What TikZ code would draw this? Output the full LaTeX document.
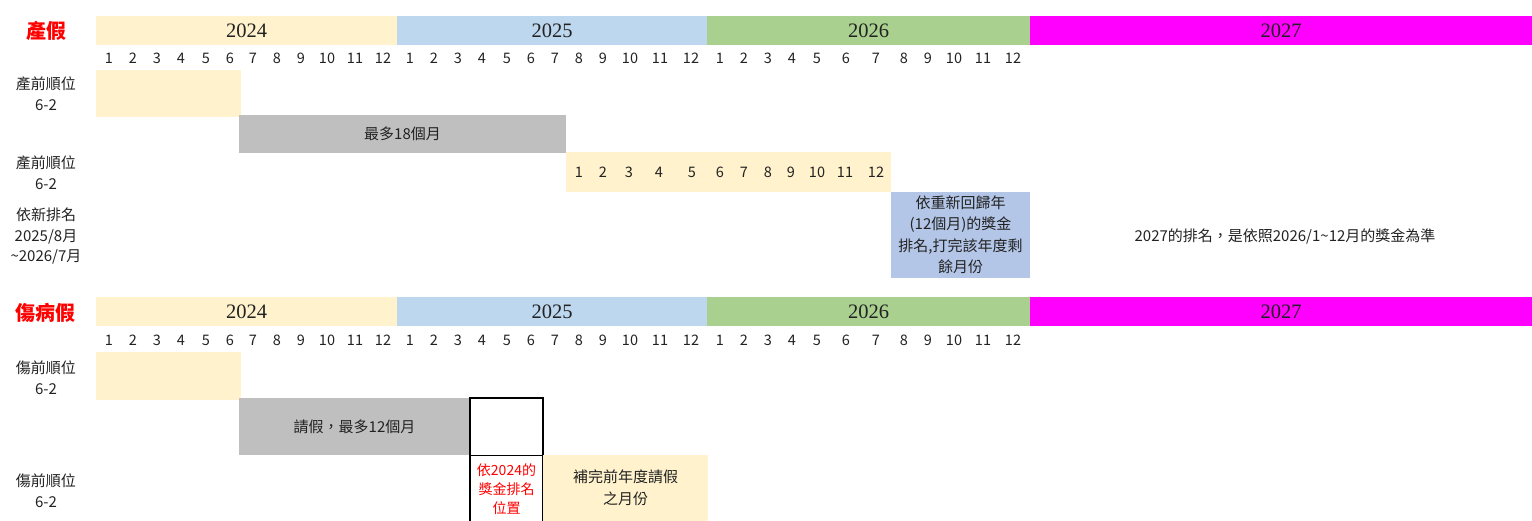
\documentclass[tikz,border=0pt]{standalone}
\usepackage{fontspec}
\setmainfont{Noto Sans CJK TC}
\newfontfamily\yrfont{Liberation Serif}
\definecolor{cy}{HTML}{FFF2CC}
\definecolor{cb}{HTML}{BDD7EE}
\definecolor{cg}{HTML}{A9D08E}
\definecolor{cm}{HTML}{FF00FF}
\definecolor{cgray}{HTML}{BFBFBF}
\definecolor{cblue}{HTML}{B4C6E7}
\definecolor{txt}{HTML}{222222}
\definecolor{cred}{HTML}{FF0000}
\newcommand\bx[7]{\node[cell,#6,minimum width={(#4-#2)*1pt},minimum height={(#5-#3)*1pt}] (#1) at ({(#2+#4)/2},{(#3+#5)/2}) {#7};}
\newcommand\yrtxt[1]{\raisebox{-1.5pt}{#1}}
\newcommand\hdr[3]{%
  \bx{#1y2024}{96}{#2}{397}{#2+29}{fill=cy,yr}{\yrtxt{2024}}
  \bx{#1y2025}{397}{#2}{707}{#2+29}{fill=cb,yr}{\yrtxt{2025}}
  \bx{#1y2026}{707}{#2}{1030}{#2+29}{fill=cg,yr}{\yrtxt{2026}}
  \bx{#1y2027}{1030}{#2}{1532}{#2+29}{fill=cm,yr}{\yrtxt{2027}}
  \foreach \xx/\mm [count=\i] in {109/1,133/2,157/3,181/4,206/5,230/6,253/7,277/8,301/9,327/10,355/11,383/12,
     410/1,434/2,458/3,482/4,507/5,531/6,555/7,579/8,603/9,630/10,660/11,691/12,
     720/1,744/2,768/3,792/4,817/5,846/6,876/7,904/8,928/9,954/10,983/11,1013/12}
     {\node[mon] (#1m\i) at (\xx,#3) {\mm};}
}
\begin{document}
\begin{tikzpicture}[x=1pt,y=-1pt,
  cell/.style={inner sep=0pt,outer sep=0pt,draw=none,align=center,text=txt,font=\fontsize{15}{21}\selectfont},
  yr/.style={font=\yrfont\fontsize{20.5}{22}\selectfont},
  mon/.style={inner sep=0pt,text=txt,font=\fontsize{14.5}{16}\selectfont},
  lbl/.style={align=center,text=txt,font=\fontsize{15}{20.5}\selectfont},
  ttl/.style={text=cred,font=\bfseries\fontsize{20}{22}\selectfont},
  frame/.style={draw=black,line width=1.2pt}]
\useasboundingbox (0,0) rectangle (1532,521);

% ---------- section 1 ----------
\node[ttl] (t1) at (46,31) {產假};
\hdr{a}{16}{58}
\node[lbl] (a1) at (46,93.5) {產前順位\\6-2};
\bx{ay1}{96}{70}{241}{117}{fill=cy}{}
\bx{ag1}{239}{115}{566}{153}{fill=cgray}{最多18個月}
\node[lbl] (a2) at (46,172.5) {產前順位\\6-2};
\bx{ay2}{566}{152}{891}{192}{fill=cy}{}
\foreach \xx/\mm in {579/1,603/2,629/3,659/4,692/5,720/6,744/7,768/8,791/9,817/10,845/11,876/12}
  {\node[mon] (an\mm) at (\xx,172) {\mm};}
\node[lbl] (a3) at (46,236) {依新排名\\2025/8月\\\textasciitilde2026/7月};
\bx{ab1}{891}{192}{1030}{278}{fill=cblue,font=\fontsize{15}{21.5}\selectfont}{依重新回歸年\\(12個月)的獎金\\排名,打完該年度剩\\餘月份}
\node[lbl] (a4) at (1285,236) {2027的排名，是依照2026/1\textasciitilde12月的獎金為準};

% ---------- section 2 ----------
\node[ttl] (t2) at (46,313) {傷病假};
\hdr{b}{297}{340}
\node[lbl] (b1) at (46,377.5) {傷前順位\\6-2};
\bx{by1}{96}{352}{241}{400}{fill=cy}{}
\bx{bg1}{239}{398}{470}{455}{fill=cgray}{請假，最多12個月}
\bx{bk1}{470}{398}{543}{455.5}{frame}{}
\bx{bk2}{470}{455.5}{543}{523}{frame}{}
\node[align=center,text=cred,font=\fontsize{14}{19}\selectfont,inner sep=0pt] (bred) at (506.5,489) {依2024的\\獎金排名\\位置};
\bx{by2}{543}{455}{708}{521}{fill=cy,font=\fontsize{15}{22}\selectfont}{補完前年度請假\\之月份}
\node[lbl] (b2) at (46,490.5) {傷前順位\\6-2};
\end{tikzpicture}
\end{document}
